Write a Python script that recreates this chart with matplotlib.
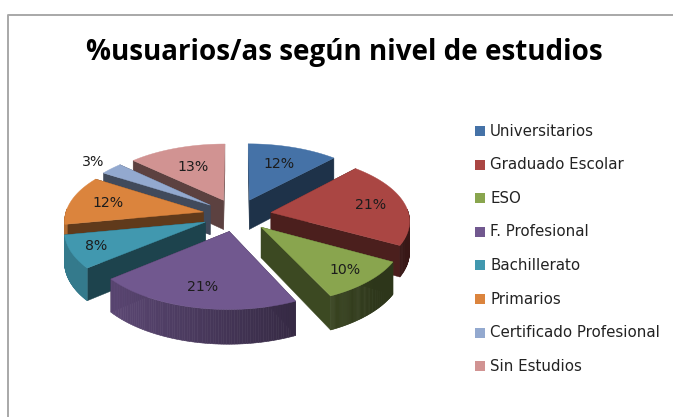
import numpy as np
import matplotlib
matplotlib.use("Agg")
import matplotlib.pyplot as plt
from matplotlib.patches import Polygon, Rectangle
from matplotlib.colors import to_rgb

title = "%usuarios/as según nivel de estudios"
categories = ["Universitarios", "Graduado Escolar", "ESO", "F. Profesional",
              "Bachillerato", "Primarios", "Certificado Profesional", "Sin Estudios"]
values = [12, 21, 10, 21, 8, 12, 3, 13]
colors = ["#4572A7", "#AA4643", "#89A54E", "#71588F",
          "#4198AF", "#DB843D", "#93A9CF", "#D19392"]
label_radius = [0.66, 0.75, 0.8, 0.76, 0.82, 0.72, 1.2, 0.62]

CX, CY, R, TILT, K, DEPTH, EXPLODE = 237, 215, 138, 0.475, 0.11, 30, 0.25


def project(x, y, z=0.0):
    s = 1 / (1 - K * np.asarray(y, dtype=float))
    return CX + R * np.asarray(x) * s, CY + R * TILT * np.asarray(y) * s + DEPTH * s * z


def shade(c, f):
    return tuple(v * f for v in to_rgb(c))


fig = plt.figure(figsize=(6.73, 4.17), dpi=100)
ax = fig.add_axes([0, 0, 1, 1])
ax.set_xlim(0, 673)
ax.set_ylim(417, 0)
ax.axis("off")

ax.plot([8, 8, 673], [417, 15, 15], color="#a8a8a8", lw=1.4, zorder=1, solid_capstyle="butt")

fr = np.cumsum([0] + values) / sum(values) * 2 * np.pi
mids = (fr[:-1] + fr[1:]) / 2
# depth sort: back slices first
order = sorted(range(len(values)), key=lambda i: np.cos(mids[i]), reverse=True)

z = 2
for i in order:
    c = colors[i]
    ox, oy = EXPLODE * np.sin(mids[i]), -EXPLODE * np.cos(mids[i])
    t = np.linspace(fr[i], fr[i + 1], 80)
    xs, ys = ox + np.sin(t), oy - np.cos(t)

    # radial cut faces
    for e in (0, -1):
        px, py = project([ox, xs[e], xs[e], ox], [oy, ys[e], ys[e], oy], np.array([0, 0, 1, 1]))
        ax.add_patch(Polygon(np.c_[px, py], closed=True, fc=shade(c, 0.44), ec=shade(c, 0.44), lw=0.3, zorder=z))
        z += 1
    # outer wall, shaded by horizontal position
    for j in range(len(t) - 1):
        if -np.cos(t[j]) < -0.05:
            continue
        px, py = project([xs[j], xs[j + 1], xs[j + 1], xs[j]], [ys[j], ys[j + 1], ys[j + 1], ys[j]],
                         np.array([0, 0, 1, 1]))
        f = float(np.clip(0.58 - 0.28 * xs[j], 0.33, 0.8))
        ax.add_patch(Polygon(np.c_[px, py], closed=True, fc=shade(c, f), ec=shade(c, f), lw=0.4, zorder=z))
    z += 1
    # top face
    px, py = project(np.r_[ox, xs], np.r_[oy, ys])
    ax.add_patch(Polygon(np.c_[px, py], closed=True, fc=c, ec=c, lw=0.3, zorder=z))
    z += 1

for i, v in enumerate(values):
    r = label_radius[i]
    ox, oy = EXPLODE * np.sin(mids[i]), -EXPLODE * np.cos(mids[i])
    lx, ly = project(ox + r * np.sin(mids[i]), oy - r * np.cos(mids[i]))
    ax.text(lx, ly, f"{v}%", ha="center", va="center", fontsize=10.2,
            family="DejaVu Sans", color="#1c1c1c", zorder=500)

ax.text(344, 52, title, ha="center", va="center", fontsize=20, family="Open Sans",
        weight="bold", color="black", zorder=500)

for i, name in enumerate(categories):
    y = 131 + i * 33.6
    ax.add_patch(Rectangle((475, y - 5), 9.5, 10, fc=colors[i], ec="none", zorder=500))
    ax.text(490, y, name, ha="left", va="center", fontsize=10.8, family="DejaVu Sans",
            color="#222222", zorder=500)

fig.savefig("out.png", dpi=100)
